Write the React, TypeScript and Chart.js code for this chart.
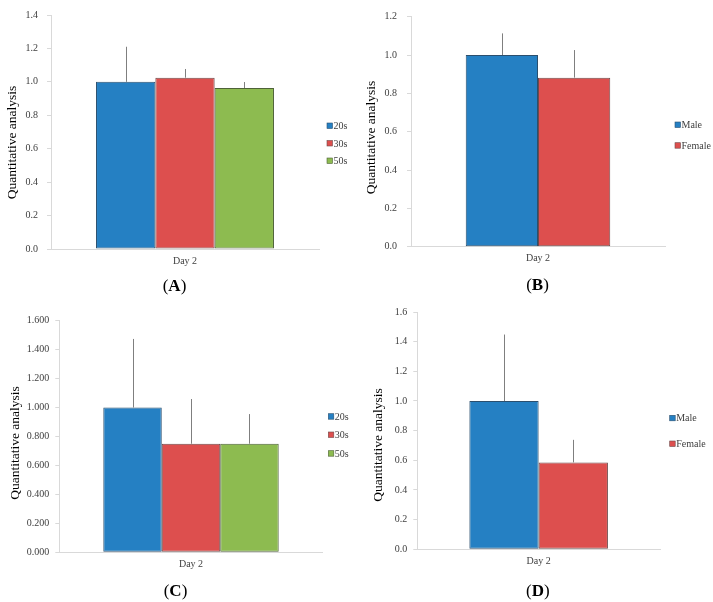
import React, { useEffect, useRef } from "react";
import { Chart, registerables } from "chart.js";

Chart.register(...registerables);

// ---------- data ----------
const categories = ["Day 2"];
const ageGroups = ["20s", "30s", "50s"];
const sexGroups = ["Male", "Female"];

const panelAValues = [1.0, 1.025, 0.963];
const panelAErrors = [0.21, 0.052, 0.036];

const panelBValues = [1.0, 0.882];
const panelBErrors = [0.113, 0.144];

const panelCValues = [1.0, 0.75, 0.75];
const panelCErrors = [0.474, 0.309, 0.205];

const panelDValues = [1.0, 0.586];
const panelDErrors = [0.448, 0.152];

const yTitle = "Quantitative analysis";

// ---------- styles ----------
const FILLS = ["#2580C3", "#DD4F4E", "#8DBB50"];
const BORDERS = ["#2B4F6E", "#6E4A4A", "#4E6238"];
const SERIF = "'Liberation Serif', 'Times New Roman', serif";
const AXIS_GRAY = "#D9D9D9";

type PanelCfg = {
  key: string;
  left: number;
  top: number;
  width: number;
  height: number;
  area: { l: number; t: number; r: number; b: number };
  series: string[];
  values: number[];
  errors: number[];
  max: number;
  decimals: number;
  catPct: number;
  tickPad: number;
  titlePos: { x: number; y: number };
  legend: { x: number; ys: number[] };
  label: string;
  labelPos: { x: number; y: number };
};

const panels: PanelCfg[] = [
  {
    key: "A", left: 0, top: 0, width: 356, height: 300,
    area: { l: 51, t: 8.5, r: 319, b: 249 },
    series: ageGroups, values: panelAValues, errors: panelAErrors,
    max: 1.4, decimals: 1, catPct: 0.664, tickPad: 9,
    titlePos: { x: 12, y: 142.5 },
    legend: { x: 327, ys: [126, 143.5, 161] },
    label: "A", labelPos: { x: 174.5, y: 286 },
  },
  {
    key: "B", left: 360, top: 0, width: 353, height: 300,
    area: { l: 51, t: 16.7, r: 305, b: 246.7 },
    series: sexGroups, values: panelBValues, errors: panelBErrors,
    max: 1.2, decimals: 1, catPct: 0.569, tickPad: 10,
    titlePos: { x: 11.7, y: 137.5 },
    legend: { x: 315, ys: [125, 145.7] },
    label: "B", labelPos: { x: 537.5, y: 285 },
  },
  {
    key: "C", left: 0, top: 300, width: 356, height: 302,
    area: { l: 59.3, t: 20.7, r: 322.7, b: 252.3 },
    series: ageGroups, values: panelCValues, errors: panelCErrors,
    max: 1.6, decimals: 3, catPct: 0.666, tickPad: 6,
    titlePos: { x: 15, y: 143 },
    legend: { x: 328.3, ys: [116.7, 135, 153.7] },
    label: "C", labelPos: { x: 175.5, y: 590.7 },
  },
  {
    key: "D", left: 360, top: 300, width: 353, height: 302,
    area: { l: 57.3, t: 10, r: 300, b: 249.3 },
    series: sexGroups, values: panelDValues, errors: panelDErrors,
    max: 1.6, decimals: 1, catPct: 0.571, tickPad: 6,
    titlePos: { x: 18.3, y: 145 },
    legend: { x: 309.7, ys: [118.3, 144] },
    label: "D", labelPos: { x: 537.8, y: 590.7 },
  },
];

function makePlugins(p: PanelCfg) {
  const errorBars = {
    id: "errorBars" + p.key,
    afterDatasetsDraw(chart: any) {
      const ctx = chart.ctx;
      const y = chart.scales.y;
      ctx.save();
      ctx.strokeStyle = "#7F7F7F";
      ctx.lineWidth = 1;
      chart.data.datasets.forEach((ds: any, i: number) => {
        const meta = chart.getDatasetMeta(i);
        meta.data.forEach((bar: any, j: number) => {
          const v = ds.data[j];
          const e = p.errors[i];
          const x = Math.round(bar.x) + 0.5;
          ctx.beginPath();
          ctx.moveTo(x, y.getPixelForValue(v));
          ctx.lineTo(x, y.getPixelForValue(v + e));
          ctx.stroke();
        });
      });
      ctx.restore();
    },
  };
  const extras = {
    id: "extras" + p.key,
    afterDraw(chart: any) {
      const ctx = chart.ctx;
      ctx.save();
      // rotated axis title
      ctx.translate(p.titlePos.x, p.titlePos.y);
      ctx.rotate(-Math.PI / 2);
      ctx.font = `13.5px ${SERIF}`;
      ctx.fillStyle = "#000";
      ctx.textAlign = "center";
      ctx.textBaseline = "middle";
      ctx.fillText(yTitle, 0, 0);
      ctx.restore();
      // legend
      ctx.save();
      ctx.font = `10px ${SERIF}`;
      ctx.textBaseline = "middle";
      ctx.textAlign = "left";
      chart.data.datasets.forEach((ds: any, i: number) => {
        const cy = p.legend.ys[i];
        ctx.fillStyle = ds.backgroundColor;
        ctx.fillRect(p.legend.x, cy - 3, 5.5, 5.5);
        ctx.strokeStyle = ds.borderColor;
        ctx.lineWidth = 0.6;
        ctx.strokeRect(p.legend.x, cy - 3, 5.5, 5.5);
        ctx.fillStyle = "#404040";
        ctx.fillText(ds.label, p.legend.x + 6.5, cy + 0.5);
      });
      ctx.restore();
    },
  };
  return [errorBars, extras];
}

function Panel({ p }: { p: PanelCfg }) {
  const ref = useRef<HTMLCanvasElement | null>(null);
  useEffect(() => {
    if (!ref.current) return;
    const chart = new Chart(ref.current, {
      type: "bar",
      data: {
        labels: categories,
        datasets: p.series.map((name, i) => ({
          label: name,
          data: [p.values[i]],
          backgroundColor: FILLS[i],
          borderColor: BORDERS[i],
          borderWidth: 1,
          borderSkipped: false,
          barPercentage: 1,
          categoryPercentage: p.catPct,
        })),
      },
      options: {
        animation: false,
        responsive: false,
        maintainAspectRatio: false,
        devicePixelRatio: 1,
        layout: {
          padding: { left: 0, top: p.area.t, right: p.width - p.area.r, bottom: 0 },
        },
        plugins: {
          legend: { display: false },
          tooltip: { enabled: false },
          title: { display: false },
        },
        scales: {
          x: {
            grid: { display: false, drawTicks: false },
            border: { display: true, color: AXIS_GRAY, width: 1 },
            ticks: {
              font: { family: SERIF, size: 10 },
              color: "#404040",
              padding: 6,
            },
            afterFit: (s: any) => {
              s.height = p.height - p.area.b;
            },
          },
          y: {
            min: 0,
            max: p.max,
            grid: {
              display: true,
              drawOnChartArea: false,
              drawTicks: true,
              tickLength: 4,
              color: AXIS_GRAY,
            },
            border: { display: true, color: AXIS_GRAY, width: 1 },
            ticks: {
              stepSize: 0.2,
              font: { family: SERIF, size: 10 },
              color: "#404040",
              padding: p.tickPad,
              callback: (v: any) => Number(v).toFixed(p.decimals),
            },
            afterFit: (s: any) => {
              s.width = p.area.l;
            },
          },
        },
      },
      plugins: makePlugins(p),
    } as any);
    return () => chart.destroy();
  }, [p]);

  return (
    <canvas
      ref={ref}
      width={p.width}
      height={p.height}
      style={{ position: "absolute", left: p.left, top: p.top, width: p.width, height: p.height }}
    />
  );
}

export default function App() {
  return (
    <div style={{ position: "absolute", left: 0, top: 0, width: 713, height: 602, background: "#fff", overflow: "hidden" }}>
      {panels.map((p) => (
        <Panel key={p.key} p={p} />
      ))}
      {panels.map((p) => (
        <div
          key={"lbl" + p.key}
          style={{
            position: "absolute",
            left: p.labelPos.x - 30,
            top: p.labelPos.y - 10,
            width: 60,
            height: 20,
            lineHeight: "20px",
            textAlign: "center",
            fontFamily: SERIF,
            fontSize: 17,
            color: "#000",
          }}
        >
          (<b>{p.label}</b>)
        </div>
      ))}
    </div>
  );
}
